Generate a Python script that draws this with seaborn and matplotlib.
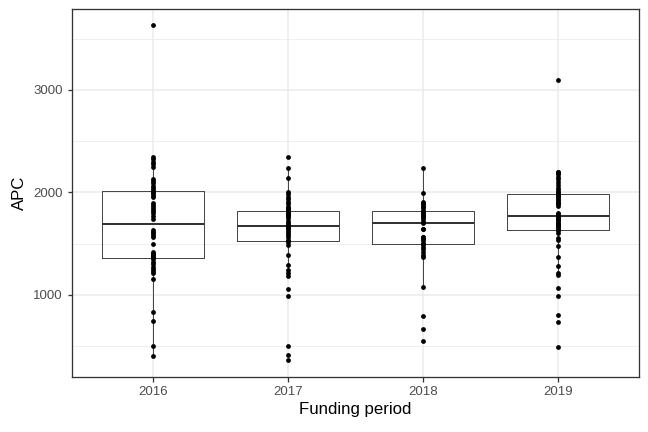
import numpy as np
import pandas as pd
import matplotlib
matplotlib.use("Agg")
import matplotlib.pyplot as plt
import seaborn as sns

periods = ["2016", "2017", "2018", "2019"]

apc_2016 = [405, 502, 746, 831, 1153, 1211, 1234, 1254, 1276, 1299, 1325, 1351,
            1368, 1383, 1383, 1400, 1400, 1417, 1498, 1563, 1586, 1600, 1612, 1634,
            1742, 1771, 1797, 1820, 1839, 1862, 1878, 1894, 1960, 1976, 1992, 2008,
            2024, 2047, 2068, 2090, 2116, 2132, 2246, 2275, 2294, 2327, 2350, 3630]

apc_2017 = [366, 415, 506, 990, 1056, 1185, 1211, 1244, 1293, 1390, 1488, 1514,
            1530, 1537, 1563, 1586, 1608, 1628, 1640, 1651, 1660, 1667, 1667, 1668,
            1670, 1683, 1706, 1725, 1750, 1771, 1780, 1790, 1800, 1813, 1818, 1820,
            1823, 1839, 1850, 1862, 1888, 1911, 1934, 1960, 1985, 2008, 2138, 2236, 2350]

apc_2018 = [551, 665, 798, 1075, 1368, 1390, 1423, 1446, 1472, 1494,
            1498, 1510, 1537, 1545, 1563, 1570, 1641, 1641, 1699,
            1716, 1716, 1738, 1758, 1770, 1781, 1804, 1810, 1820,
            1823, 1846, 1860, 1868, 1888, 1900, 1911, 1998, 2236]

apc_2019 = [496, 740, 805, 993, 1065, 1195, 1218, 1283, 1374, 1478, 1537, 1559, 1608,
            1631, 1634, 1645, 1660, 1670, 1683, 1695, 1706, 1720, 1732, 1745, 1758, 1765,
            1771, 1781, 1795, 1804, 1868, 1888, 1900, 1911, 1925, 1934, 1953, 1965, 1976,
            1982, 1998, 2000, 2024, 2040, 2073, 2100, 2129, 2150, 2177, 2190, 2197, 2197, 3098]

values = [apc_2016, apc_2017, apc_2018, apc_2019]
df = pd.DataFrame({
    "period": np.concatenate([[p] * len(v) for p, v in zip(periods, values)]),
    "APC": np.concatenate(values),
})

sns.set_style("white")
plt.rcParams["font.family"] = ["Liberation Sans", "DejaVu Sans"]

fig = plt.figure(figsize=(9, 6), dpi=72)
ax = fig.add_axes([72 / 648, 1 - 377 / 432, (639 - 72) / 648, (377 - 9) / 432])

edge = "#333333"
sns.boxplot(data=df, x="period", y="APC", order=periods, ax=ax, width=0.75,
            showfliers=False, whis=1.5, fill=False, color=edge, linewidth=0.9,
            medianprops=dict(color=edge, linewidth=2.0),
            boxprops=dict(color=edge, linewidth=0.9),
            whiskerprops=dict(color=edge, linewidth=0.9),
            capprops=dict(linewidth=0), zorder=3)
sns.stripplot(data=df, x="period", y="APC", order=periods, ax=ax, jitter=False,
              color="black", size=4.8, linewidth=0, zorder=4)

ax.set_xlim(-0.6, 3.6)
ax.set_ylim(200, 3790)
ax.set_yticks([1000, 2000, 3000])
ax.set_yticks([500, 1500, 2500, 3500], minor=True)
ax.grid(True, which="major", color="#EBEBEB", linewidth=1.5, zorder=0)
ax.grid(True, which="minor", axis="y", color="#EBEBEB", linewidth=0.8, zorder=0)
ax.set_axisbelow(True)

for s in ax.spines.values():
    s.set_color(edge)
    s.set_linewidth(1.3)

ax.tick_params(axis="both", which="major", length=4.5, width=1.3, color=edge,
               labelsize=13.2, labelcolor="#4D4D4D", pad=4.5, direction="out")
ax.tick_params(axis="both", which="minor", length=0)
ax.tick_params(left=True, bottom=True)
ax.set_xlabel("Funding period", fontsize=16.8, color="black", labelpad=4)
ax.set_ylabel("APC", fontsize=16.8, color="black", labelpad=6)

fig.savefig("out.png", dpi=72)
